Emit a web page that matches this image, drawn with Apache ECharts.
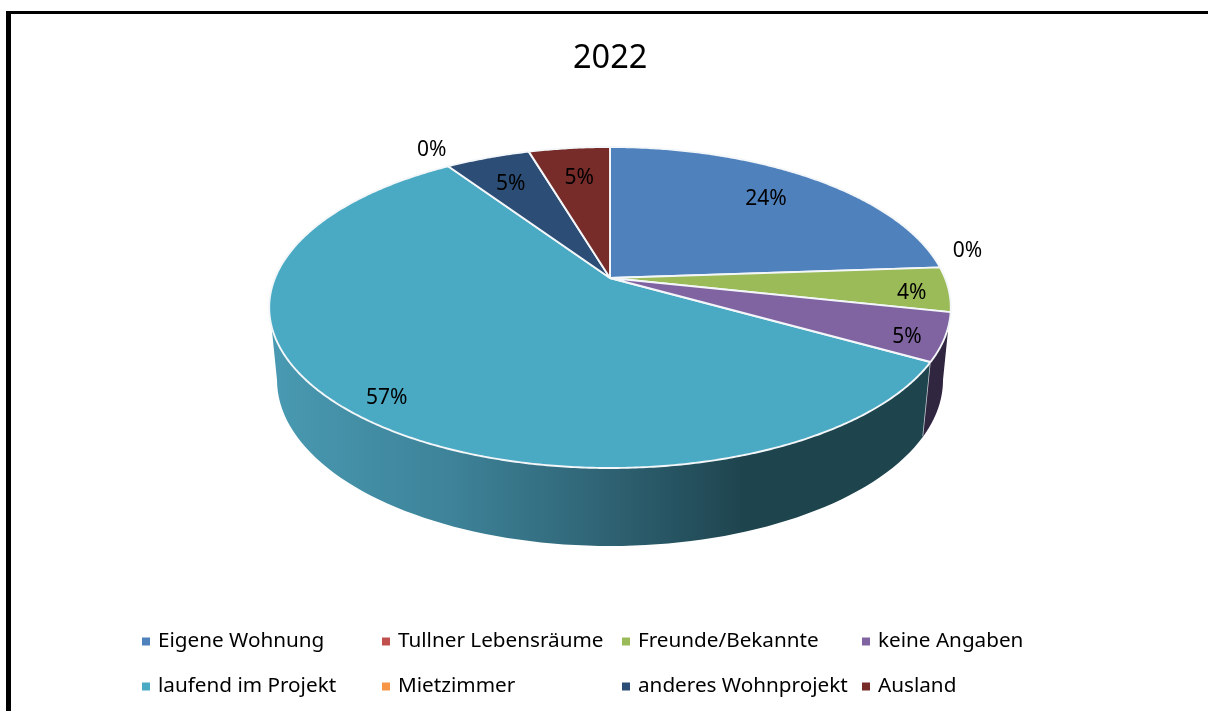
<!DOCTYPE html>
<html><head><meta charset="utf-8">
<style>html,body{margin:0;padding:0;background:#fff}#c{width:1208px;height:711px}</style>
<script src="https://cdn.jsdelivr.net/npm/echarts@6/dist/echarts.min.js"></script>
</head><body><div id="c"></div>
<script>
const chartTitle = '2022';
const categories = ['Eigene Wohnung','Tullner Lebensräume','Freunde/Bekannte','keine Angaben','laufend im Projekt','Mietzimmer','anderes Wohnprojekt','Ausland'];
const values = [23.9, 0, 4.49, 4.81, 57.4, 0, 4.8, 4.6];
const colors = ['#4f81bd','#c0504d','#9bbb59','#8064a2','#4aaac4','#f79646','#2c4d75','#772c2a'];
const labelRadius = [0.77, 1.12, 0.89, 0.90, 0.89, 1.165, 0.77, 0.75];
const labelAngleShift = [-1.1, -5.7, 1.7, 1.9, -1.8, 1.2, -0.5, 0.3];
const legendColumns = [142, 382, 622, 862];
const legendRows = [631, 676];

const FONT = '"Noto Sans", sans-serif';
const total = values.reduce((a, b) => a + b, 0);
const PIE = {cx: 610, apexY: 278, k: -0.1838, a: 155.08, d: 335,
  topCy: 307.5, topRx: 341, topRy: 160.5, botCy: 380, botRx: 333, botRy: 166, sil: 0.125};

function project(deg, r) {
  const th = deg * Math.PI / 180, u = r * Math.sin(th), v = -r * Math.cos(th);
  const w = 1 + PIE.k * v;
  return [PIE.cx + PIE.d * u / w, PIE.apexY + PIE.a * v / w];
}
function ellipseParam(deg) {
  const p = project(deg, 1);
  let t = Math.atan2((p[1] - PIE.topCy) / PIE.topRy, (p[0] - PIE.cx) / PIE.topRx);
  if (t < -Math.PI / 2) t += 2 * Math.PI;
  return t;
}
function wallFill(i) {
  if (i === 4) return new echarts.graphic.LinearGradient(277, 0, 745, 0, [
    {offset: 0, color: '#4899b1'}, {offset: 0.38, color: '#3d8298'},
    {offset: 0.7, color: '#2f6374'}, {offset: 1, color: '#1e444e'}], true);
  return i === 3 ? '#312640' : echarts.color.lift(colors[i], -0.6);
}
function arcPoints(t0, t1, cy, rx, ry) {
  const pts = [], n = 80;
  for (let j = 0; j <= n; j++) {
    const t = t0 + (t1 - t0) * j / n;
    pts.push([PIE.cx + rx * Math.cos(t), cy + ry * Math.sin(t)]);
  }
  return pts;
}
function renderSlice(i) {
  return function (params, api) {
    const before = values.slice(0, i).reduce((a, b) => a + b, 0);
    const a0 = before / total * 360, a1 = (before + api.value(0)) / total * 360;
    const children = [];
    if (a1 > a0) {
      const t0 = ellipseParam(a0), t1 = ellipseParam(a1);
      const s = Math.max(t0, PIE.sil), e = Math.min(t1, Math.PI - PIE.sil);
      if (e > s) {
        const botS = s === PIE.sil ? 0 : s, botE = e === Math.PI - PIE.sil ? Math.PI : e;
        const poly = arcPoints(s, e, PIE.topCy, PIE.topRx, PIE.topRy)
          .concat(arcPoints(botE, botS, PIE.botCy, PIE.botRx, PIE.botRy));
        children.push({type: 'polygon', shape: {points: poly}, z2: 1,
          style: {fill: wallFill(i), stroke: '#d8dcdf', lineWidth: 0}});
        if (s !== PIE.sil) {
          const p = arcPoints(s, s, PIE.topCy, PIE.topRx, PIE.topRy)[0];
          const q = arcPoints(s, s, PIE.botCy, PIE.botRx, PIE.botRy)[0];
          children.push({type: 'line', shape: {x1: p[0], y1: p[1], x2: q[0], y2: q[1]}, z2: 2,
            style: {stroke: '#c9ced2', lineWidth: 1.5}});
        }
      }
      const pts = [project(0, 0)], n = Math.max(8, Math.ceil(a1 - a0) * 2);
      for (let j = 0; j <= n; j++) pts.push(project(a0 + (a1 - a0) * j / n, 1));
      children.push({type: 'polygon', shape: {points: pts}, z2: 3,
        style: {fill: colors[i], stroke: '#f4f7f9', lineWidth: 1.9, lineJoin: 'round'}});
    }
    const lp = project((a0 + a1) / 2 + labelAngleShift[i], labelRadius[i]);
    children.push({type: 'text', z2: 5, style: {
      x: lp[0], y: lp[1] + 1, text: Math.round(api.value(0) / total * 100) + '%',
      fill: '#000', font: '21px ' + FONT, textAlign: 'center', textVerticalAlign: 'middle'}});
    return {type: 'group', children};
  };
}
const series = categories.map((name, i) => ({
  name, type: 'custom', coordinateSystem: 'none', z: 2 + (i === 4 ? 0 : 1),
  itemStyle: {color: colors[i]}, silent: true, animation: false,
  data: [[values[i]]], renderItem: renderSlice(i)
}));
const legend = categories.map((name, i) => ({
  data: [name], orient: 'horizontal', padding: 0, left: legendColumns[i % 4],
  top: legendRows[Math.floor(i / 4)], itemWidth: 8, itemHeight: 8, icon: 'rect',
  selectedMode: false,
  textStyle: {fontFamily: FONT, fontSize: 20.7, color: '#000', padding: [0, 0, 0, 3]}
}));
const chart = echarts.init(document.getElementById('c'), null, {renderer: 'canvas'});
chart.setOption({
  animation: false, backgroundColor: '#fff',
  title: {text: chartTitle, left: 568, top: 37,
    textStyle: {fontFamily: FONT, fontSize: 32.5, fontWeight: 'normal', color: '#000'}},
  legend, series,
  graphic: [
    {type: 'rect', shape: {x: 6, y: 11, width: 5, height: 700}, style: {fill: '#000'}},
    {type: 'rect', shape: {x: 6, y: 11, width: 1202, height: 3}, style: {fill: '#000'}}
  ]
});
</script></body></html>
